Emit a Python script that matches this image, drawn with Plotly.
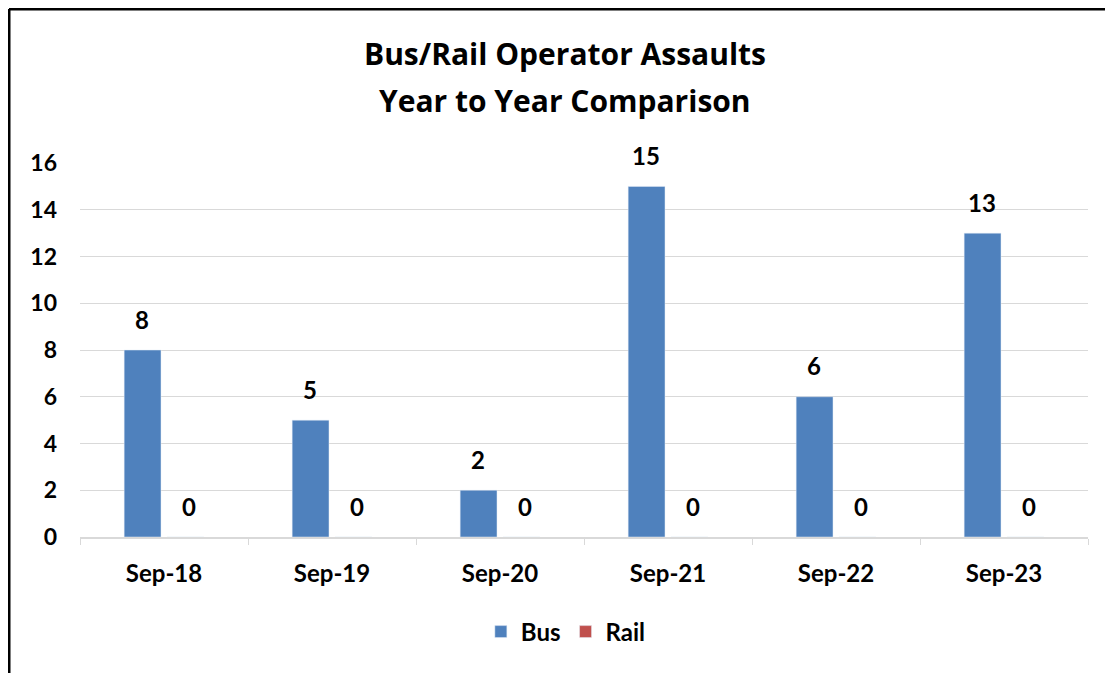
import plotly.graph_objects as go

categories = ["Sep-18", "Sep-19", "Sep-20", "Sep-21", "Sep-22", "Sep-23"]
bus = [8, 5, 2, 15, 6, 13]
rail = [0, 0, 0, 0, 0, 0]
y_ticks = [0, 2, 4, 6, 8, 10, 12, 14, 16]
title_lines = ["Bus/Rail Operator Assaults", "Year to Year Comparison"]

# page body adds an 8px margin, so the figure is 8px smaller than the window
W, H = 1105, 665
ML, MR, MT, MB = 72, 25, 155, 136
FONT = "Lato"
TITLE_FONT = "Open Sans"
GRID = "#D9D9D9"
INK = "#000000"

pw, ph = W - ML - MR, H - MT - MB


def px_x(x):
    return (x - ML) / pw


def px_y(y):
    return (H - MB - y) / ph


fig = go.Figure()
fig.add_bar(name="Bus", x=categories, y=bus, marker_color="#4F81BD")
fig.add_bar(name="Rail", x=categories, y=rail, marker_color="#C0504D")

# data labels sit well above the bar tops, like the Excel original
for series, shift in ((bus, -22), (rail, 25)):
    for cat, val in zip(categories, series):
        fig.add_annotation(
            x=cat, y=val, text=str(val), showarrow=False,
            xshift=shift, yshift=31, yanchor="middle",
            font=dict(family=FONT, size=24, color=INK, weight="bold"),
        )

# two-line title with Excel-like line spacing
for text, ypx in zip(title_lines, (46, 92)):
    fig.add_annotation(
        xref="paper", yref="paper", x=px_x(557), y=px_y(ypx),
        xanchor="center", yanchor="middle", showarrow=False, text=text,
        font=dict(family=TITLE_FONT, size=30, color=INK, weight="bold"),
    )

# frame: only the top and left edges show in the crop
frame = dict(color="#000000", width=3)
fig.add_shape(type="line", xref="paper", yref="paper",
              x0=px_x(1), x1=px_x(1), y0=px_y(1), y1=px_y(H + 10), line=frame)
fig.add_shape(type="line", xref="paper", yref="paper",
              x0=px_x(1), x1=px_x(W + 10), y0=px_y(1), y1=px_y(1), line=frame)

fig.update_layout(
    width=W, height=H,
    margin=dict(l=ML, r=MR, t=MT, b=MB),
    paper_bgcolor="white",
    plot_bgcolor="white",
    barmode="group",
    bargap=0.49,
    bargroupgap=0.14,
    font=dict(family=FONT, color=INK),
    showlegend=True,
    legend=dict(
        orientation="h", x=0.482, xanchor="center",
        y=px_y(624), yanchor="middle",
        font=dict(family=FONT, size=24, color=INK, weight="bold"),
        itemwidth=30, traceorder="normal",
    ),
)
fig.update_xaxes(
    type="category",
    tickson="boundaries",
    ticks="outside", ticklen=6, tickcolor=GRID,
    showline=True, linecolor=GRID, linewidth=2,
    showgrid=False,
    ticklabelstandoff=14,
    tickfont=dict(family=FONT, size=24, color=INK, weight="bold"),
)
fig.update_yaxes(
    range=[0, 16],
    tickvals=y_ticks,
    showgrid=True, gridcolor=GRID, gridwidth=1,
    zeroline=False, showline=False,
    ticklabelstandoff=22,
    tickfont=dict(family=FONT, size=23, color=INK, weight="bold"),
)

fig.write_html("out.html")
